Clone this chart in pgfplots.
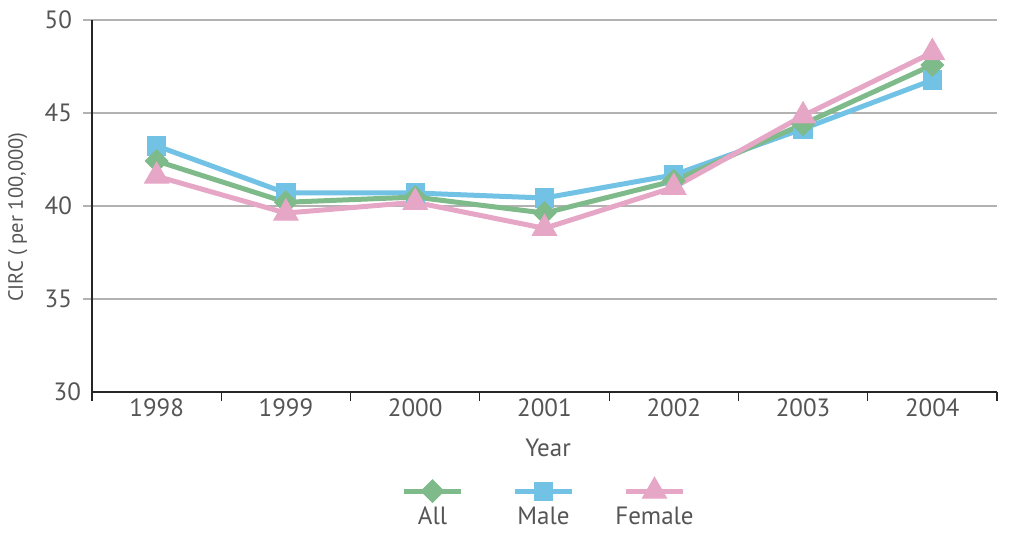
\documentclass[border=0pt]{standalone}
\usepackage{pgfplots}
\pgfplotsset{compat=1.18}
\usepackage{fontspec}
\setmainfont{PT Sans}
\definecolor{cAll}{HTML}{7FBA8A}
\definecolor{cMale}{HTML}{72C2E6}
\definecolor{cFemale}{HTML}{E6A6C6}
\definecolor{txt}{HTML}{555555}
\newcommand{\tf}{\fontsize{12.5}{14}\selectfont}

\pgfplotsset{
  leg/.style={legend image code/.code={
    \draw[##1, mark repeat=2, mark phase=2] plot coordinates {(0pt,0pt) (14.25pt,0pt) (28.5pt,0pt)};
    \node[overlay, anchor=center, inner sep=0pt, text=txt, font=\tf] at (14.25pt,-13pt) {#1};
  }},
  sAll/.style={color=cAll, line width=2.5pt, mark=square*, mark size=4pt,
    mark options={rotate=45, line width=0.5pt}},
  sMale/.style={color=cMale, line width=2.5pt, mark=square*, mark size=4.6pt,
    mark options={line width=0.5pt}},
  sFemale/.style={color=cFemale, line width=2.5pt, mark=triangle*, mark size=7pt,
    mark options={line width=0.5pt}},
}

\begin{document}
\begin{tikzpicture}
\useasboundingbox (-46pt,-75pt) rectangle (466pt,196pt);
\begin{axis}[
  at={(0pt,0pt)}, anchor=south west,
  scale only axis, width=452.5pt, height=186pt,
  xmin=0, xmax=7, ymin=30, ymax=50,
  axis lines*=left,
  axis line style={black!85, line width=0.6pt},
  tick align=outside,
  major tick length=4.5pt,
  xtick={0,...,7}, xticklabels=\empty,
  x tick style={black!85, line width=0.6pt},
  extra x ticks={0.5,1.5,2.5,3.5,4.5,5.5,6.5},
  extra x tick labels={1998,1999,2000,2001,2002,2003,2004},
  extra x tick style={major tick length=0pt},
  ytick={35,40,45,50},
  extra y ticks={30},
  extra y tick style={major tick length=0pt, grid=none},
  y tick style={black!30, line width=0.6pt},
  ymajorgrids,
  grid style={black!30, line width=0.6pt},
  /pgf/number format/assume math mode=true,
  tick label style={font=\tf, text=txt},
  yticklabel style={xshift=-2pt},
  xlabel={Year}, ylabel={CIRC ( per 100,000)},
  every axis x label/.style={at={(axis description cs:0.504,-0.15)}, anchor=center, font=\tf, text=txt},
  every axis y label/.style={at={(axis description cs:-0.082,0.47)}, anchor=center, rotate=90, font=\fontsize{10.3}{12}\selectfont, text=txt},
  legend columns=3,
  legend style={at={(axis description cs:0.5,-0.228)}, anchor=north, draw=none, fill=none,
    inner sep=0pt, nodes={inner sep=0pt},
    /tikz/every even column/.append style={column sep=23.5pt}},
  clip=false,
]
\addlegendimage{sAll, leg=All}
\addlegendentry{\mbox{}}
\addlegendimage{sMale, leg=Male}
\addlegendentry{\mbox{}}
\addlegendimage{sFemale, leg=Female}
\addlegendentry{\mbox{}}

% Male
\addplot[sMale, forget plot] coordinates {
  (0.5,43.23) (1.5,40.70) (2.5,40.70) (3.5,40.43) (4.5,41.67) (5.5,44.15) (6.5,46.77)
};
% All
\addplot[sAll, forget plot] coordinates {
  (0.5,42.42) (1.5,40.20) (2.5,40.48) (3.5,39.62) (4.5,41.35) (5.5,44.40) (6.5,47.58)
};
% Female
\addplot[sFemale, forget plot] coordinates {
  (0.5,41.60) (1.5,39.62) (2.5,40.20) (3.5,38.80) (4.5,41.00) (5.5,44.85) (6.5,48.25)
};
\end{axis}
\end{tikzpicture}
\end{document}
